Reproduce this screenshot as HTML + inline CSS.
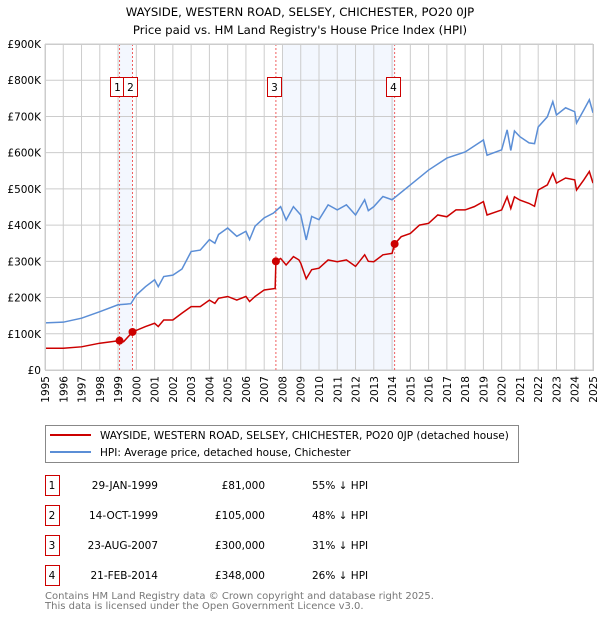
<!DOCTYPE html>
<html><head><meta charset="utf-8">
<style>
body{margin:0;background:#fff;font-family:"DejaVu Sans","Liberation Sans",sans-serif;}
#wrap{position:relative;width:600px;height:620px;overflow:hidden;}
svg text{font-family:"DejaVu Sans","Liberation Sans",sans-serif;}
</style></head>
<body><div id="wrap">
<svg id="chart" width="600" height="620">
<text x="300" y="16" text-anchor="middle" font-size="11.7">WAYSIDE, WESTERN ROAD, SELSEY, CHICHESTER, PO20 0JP</text>
<text x="300" y="34" text-anchor="middle" font-size="11.7">Price paid vs. HM Land Registry's House Price Index (HPI)</text>
<g id="plot"></g>
<g>
<rect x="45.5" y="425.5" width="473" height="37" fill="#fff" stroke="#888"/>
<line x1="50" y1="435" x2="91" y2="435" stroke="#cc0000" stroke-width="2"/>
<text x="100" y="439" font-size="10.5">WAYSIDE, WESTERN ROAD, SELSEY, CHICHESTER, PO20 0JP (detached house)</text>
<line x1="50" y1="452" x2="91" y2="452" stroke="#5b8ed6" stroke-width="2"/>
<text x="100" y="456" font-size="10.5">HPI: Average price, detached house, Chichester</text>
</g>
<g id="table"></g>
<text x="45" y="599" font-size="10" fill="#777">Contains HM Land Registry data © Crown copyright and database right 2025.</text>
<text x="45" y="609" font-size="10" fill="#777">This data is licensed under the Open Government Licence v3.0.</text>
</svg>
</div>
<script>
const hpiYears=[1995,1996,1997,1998,1999,1999.7,2000,2000.5,2001,2001.2,2001.5,2002,2002.5,2003,2003.5,2004,2004.3,2004.5,2005,2005.5,2006,2006.2,2006.5,2007,2007.5,2007.9,2008.2,2008.6,2009,2009.3,2009.6,2010,2010.5,2011,2011.5,2012,2012.5,2012.7,2013,2013.5,2014,2015,2016,2017,2018,2019,2019.2,2020,2020.3,2020.5,2020.7,2021,2021.5,2021.8,2022,2022.5,2022.8,2023,2023.5,2024,2024.1,2024.5,2024.8,2025];
const hpiValues=[130,132,143,161,180,183,207,230,249,230,258,262,279,327,331,360,350,374,392,369,383,360,397,420,433,451,414,451,428,359,424,415,456,442,456,428,470,440,451,479,470,511,552,585,602,635,593,608,663,606,660,644,627,625,671,699,741,704,724,713,682,718,746,710];
const paidYears=[1995,1996,1997,1998,1999.08,1999.3,1999.79,2000.5,2001,2001.2,2001.5,2002,2002.5,2003,2003.5,2004,2004.3,2004.5,2005,2005.5,2006,2006.2,2006.5,2007,2007.6,2007.64,2007.9,2008.2,2008.6,2008.9,2009,2009.3,2009.6,2010,2010.5,2011,2011.5,2012,2012.5,2012.7,2013,2013.5,2014.0,2014.14,2014.5,2015,2015.5,2016,2016.5,2017,2017.5,2018,2018.5,2019,2019.2,2020,2020.3,2020.5,2020.7,2021,2021.5,2021.8,2022,2022.5,2022.8,2023,2023.5,2024,2024.1,2024.5,2024.8,2025];
const paidValues=[60,60,64,74,81,78,105,120,129,120,138,138,157,175,175,193,184,198,203,193,203,189,203,221,225,300,308,290,313,304,295,252,277,281,304,299,304,286,318,300,299,318,322,348,368,377,400,405,428,423,442,442,451,465,428,442,478,446,478,469,460,452,497,511,543,516,530,525,497,525,548,516];
const saleLabels=["1","2","3","4"];
const saleYears=[1999.08,1999.79,2007.64,2014.14];
const salePrices=[81,105,300,348];
const saleDates=["29-JAN-1999","14-OCT-1999","23-AUG-2007","21-FEB-2014"];
const salePriceText=["£81,000","£105,000","£300,000","£348,000"];
const saleHpiText=["55% ↓ HPI","48% ↓ HPI","31% ↓ HPI","26% ↓ HPI"];
const yTicks=[0,100,200,300,400,500,600,700,800,900];
const yTickLabels=["£0","£100K","£200K","£300K","£400K","£500K","£600K","£700K","£800K","£900K"];
const xTicks=[1995,1996,1997,1998,1999,2000,2001,2002,2003,2004,2005,2006,2007,2008,2009,2010,2011,2012,2013,2014,2015,2016,2017,2018,2019,2020,2021,2022,2023,2024,2025];

const X0=45,X1=593,Y0=370,Y1=44;
const xs=y=>X0+(y-1995)/30*(X1-X0);
const ys=v=>Y0-v/900*(Y0-Y1);
const NS="http://www.w3.org/2000/svg";
const plot=document.getElementById('plot');
function mk(tag,attrs,parent){const e=document.createElementNS(NS,tag);for(const k in attrs)e.setAttribute(k,attrs[k]);(parent||plot).appendChild(e);return e;}

let r=mk('rect',{x:xs(saleYears[0]),y:Y1,width:xs(saleYears[1])-xs(saleYears[0]),height:Y0-Y1,fill:'#eef3fd',opacity:0.7});


r=mk('rect',{x:xs(2008),y:Y1,width:xs(saleYears[3])-xs(2008),height:Y0-Y1,fill:'#eef3fd',opacity:0.7});



xTicks.forEach(t=>{
 const l=mk('line',{x1:xs(t),x2:xs(t),y1:Y1,y2:Y0,stroke:'#ccc','stroke-width':1});
 
 
 const tx=mk('text',{x:0,y:0,'font-size':10.5,'text-anchor':'end',transform:`translate(${xs(t)+4},${Y0+6}) rotate(-90)`});
 tx.textContent=t;
 
 
});
yTicks.forEach((t,i)=>{
 const l=mk('line',{x1:X0,x2:X1,y1:ys(t),y2:ys(t),stroke:'#ccc','stroke-width':1});
 
 
 const tx=mk('text',{x:X0-4,y:ys(t)+4,'font-size':10.5,'text-anchor':'end'});
 tx.textContent=yTickLabels[i];
 
 
});

saleYears.forEach((y,i)=>{
 const l=mk('line',{x1:xs(y),x2:xs(y),y1:Y1,y2:Y0,stroke:'#f06060','stroke-dasharray':'2,2','stroke-width':1});
 
 
});

let p=mk('polyline',{points:hpiYears.map((y,i)=>xs(y)+','+ys(hpiValues[i])).join(' '),fill:'none',stroke:'#5b8ed6','stroke-width':1.5});


p=mk('polyline',{points:paidYears.map((y,i)=>xs(y)+','+ys(paidValues[i])).join(' '),fill:'none',stroke:'#cc0000','stroke-width':1.5});



const boxOffsets=[-10,-9,-9,-9];
saleYears.forEach((y,i)=>{
 const c=mk('circle',{cx:xs(y),cy:ys(salePrices[i]),r:4,fill:'#cc0000'});
 
 
 const bx=xs(y)+boxOffsets[i];
 const b=mk('rect',{x:Math.round(bx)+0.5,y:77.5,width:14,height:19,fill:'#fff',stroke:'#cc0000'});
 
 
 const t=mk('text',{x:Math.round(bx)+7.5,y:91,'font-size':10.5,'text-anchor':'middle'});
 t.textContent=saleLabels[i];
 
 
});
mk('rect',{x:X0+0.5,y:Y1+0.5,width:X1-X0,height:Y0-Y1,fill:'none',stroke:'#ccc'});

const tbl=document.getElementById('table');
saleLabels.forEach((s,i)=>{
 const y=475+i*30;
 const b=mk('rect',{x:45.5,y:y+0.5,width:14,height:20,fill:'#fff',stroke:'#cc0000'},tbl);
 
 
 let t=mk('text',{x:52,y:y+14,'font-size':10.5,'text-anchor':'middle'},tbl);t.textContent=s;
 
 
 t=mk('text',{x:158,y:y+14,'font-size':10.5,'text-anchor':'end'},tbl);t.textContent=saleDates[i];
 
 
 t=mk('text',{x:265,y:y+14,'font-size':10.5,'text-anchor':'end'},tbl);t.textContent=salePriceText[i];
 
 
 t=mk('text',{x:312,y:y+14,'font-size':10.5},tbl);t.textContent=saleHpiText[i];
 
 
});
</script>
</body></html>
